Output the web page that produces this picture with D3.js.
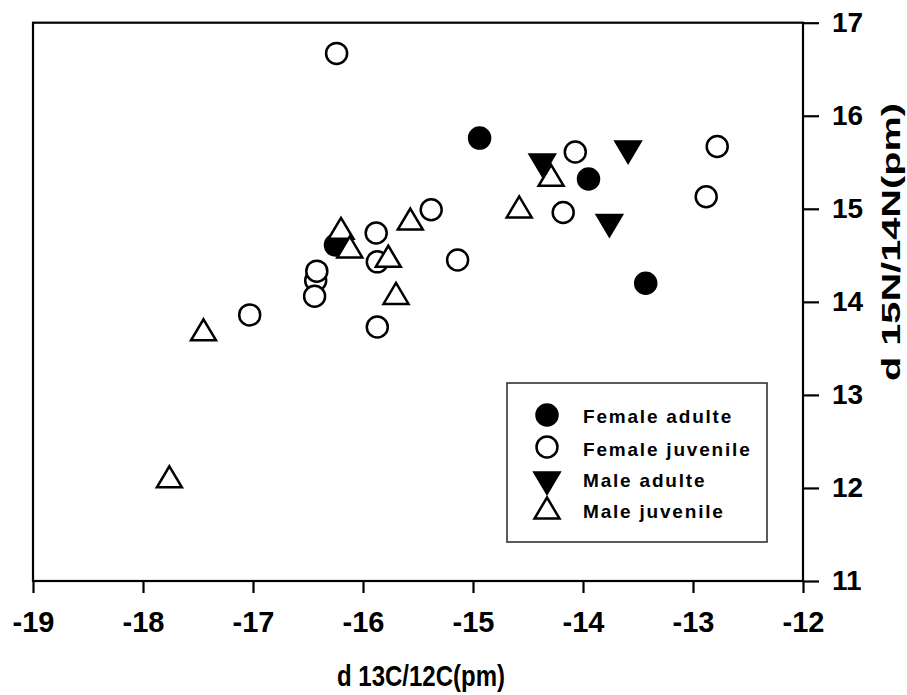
<!DOCTYPE html>
<html>
<head>
<meta charset="utf-8">
<script src="https://cdn.jsdelivr.net/npm/d3@7"></script>
<style>
  html, body { margin: 0; padding: 0; background: #fff; }
  svg { display: block; }
  text { font-family: "Liberation Sans", Arial, sans-serif; font-weight: bold; fill: #000; }
</style>
</head>
<body>
<svg id="chart" width="907" height="695"></svg>
<script>
// ---- data ----
const seriesNames = ["Female adulte", "Female juvenile", "Male adulte", "Male juvenile"];

const femaleAdulteX = [-14.94, -13.95, -13.43, -16.25];
const femaleAdulteY = [15.76, 15.32, 14.20, 14.61];

const femaleJuvenileX = [-16.24, -14.07, -12.78, -12.88, -14.18, -15.38, -15.88, -15.87, -15.14, -16.43, -16.42, -16.44, -17.03, -15.87];
const femaleJuvenileY = [16.67, 15.61, 15.67, 15.13, 14.96, 14.99, 14.74, 14.43, 14.45, 14.23, 14.33, 14.06, 13.86, 13.73];

const maleAdulteX = [-14.37, -13.59, -13.76];
const maleAdulteY = [15.47, 15.61, 14.82];

const maleJuvenileX = [-17.76, -17.45, -16.20, -16.12, -15.77, -15.57, -15.70, -14.58, -14.29];
const maleJuvenileY = [12.12, 13.70, 14.79, 14.59, 14.49, 14.89, 14.09, 15.02, 15.36];

const xTicks = [-19, -18, -17, -16, -15, -14, -13, -12];
const yTicks = [11, 12, 13, 14, 15, 16, 17];
const xTitle = "d 13C/12C(pm)";
const yTitle = "d 15N/14N(pm)";

// ---- layout ----
const svg = d3.select("#chart");
const x = d3.scaleLinear().domain([-19, -12]).range([33, 803]);
const y = d3.scaleLinear().domain([11, 17]).range([581, 22.7]);

// frame
svg.append("rect")
  .attr("x", x(-19)).attr("y", y(17))
  .attr("width", x(-12) - x(-19)).attr("height", y(11) - y(17))
  .attr("fill", "none").attr("stroke", "#000").attr("stroke-width", 2.2);

// axes
const plainFmt = d => String(d);   // hyphen-minus like the original
const gx = svg.append("g").attr("transform", `translate(0,${y(11)})`)
  .call(d3.axisBottom(x).tickValues(xTicks).tickSize(12).tickPadding(18).tickFormat(plainFmt));
gx.select(".domain").remove();
gx.selectAll("line").attr("stroke", "#000").attr("stroke-width", 2.2);
gx.selectAll("text").style("font-size", "29px").attr("fill", "#000");

const gy = svg.append("g").attr("transform", `translate(${x(-12)},0)`)
  .call(d3.axisRight(y).tickValues(yTicks).tickSize(16).tickPadding(13).tickFormat(plainFmt));
gy.select(".domain").remove();
gy.selectAll("line").attr("stroke", "#000").attr("stroke-width", 2.2);
gy.selectAll("text").style("font-size", "28px").attr("fill", "#000");

// titles
svg.append("text")
  .attr("x", 421).attr("y", 686)
  .attr("text-anchor", "middle")
  .attr("textLength", 168).attr("lengthAdjust", "spacingAndGlyphs")
  .style("font-size", "30px")
  .text(xTitle);

svg.append("text")
  .attr("transform", `translate(900,242) rotate(-90)`)
  .attr("text-anchor", "middle")
  .attr("textLength", 278).attr("lengthAdjust", "spacingAndGlyphs")
  .style("font-size", "26px")
  .text(yTitle);

// ---- symbols ----
const symbolPath = {
  circle: "M0,-10.5A10.5,10.5 0 1,1 0,10.5A10.5,10.5 0 1,1 0,-10.5Z",
  up: "M0,-10.5L12.5,10.5L-12.5,10.5Z",
  down: "M-12.5,-10.5L12.5,-10.5L0,10.5Z"
};
const styles = [
  { shape: "circle", fill: "#000" },
  { shape: "circle", fill: "#fff" },
  { shape: "down", fill: "#000" },
  { shape: "up", fill: "#fff" }
];
const series = [
  [femaleAdulteX, femaleAdulteY],
  [femaleJuvenileX, femaleJuvenileY],
  [maleAdulteX, maleAdulteY],
  [maleJuvenileX, maleJuvenileY]
];

series.forEach((s, i) => {
  const pts = s[0].map((v, j) => [v, s[1][j]]);
  svg.append("g").selectAll("path").data(pts).join("path")
    .attr("d", symbolPath[styles[i].shape])
    .attr("transform", d => `translate(${x(d[0])},${y(d[1])})`)
    .attr("fill", styles[i].fill)
    .attr("stroke", "#000")
    .attr("stroke-width", 2.5)
    .attr("stroke-linejoin", "miter");
});

// ---- legend ----
const lg = svg.append("g");
lg.append("rect")
  .attr("x", 507).attr("y", 383).attr("width", 260).attr("height", 159)
  .attr("fill", "#fff").attr("stroke", "#333").attr("stroke-width", 1.6);
const legendRowY = [415, 447, 483, 508];
const legendTextY = [423, 456, 487, 518];
seriesNames.forEach((name, i) => {
  lg.append("path")
    .attr("d", symbolPath[styles[i].shape])
    .attr("transform", `translate(547,${legendRowY[i]})`)
    .attr("fill", styles[i].fill)
    .attr("stroke", "#000").attr("stroke-width", 2.5);
  lg.append("text")
    .attr("x", 583).attr("y", legendTextY[i])
    .style("font-size", "19px")
    .style("letter-spacing", "1.8px")
    .text(name);
});
</script>
</body>
</html>
